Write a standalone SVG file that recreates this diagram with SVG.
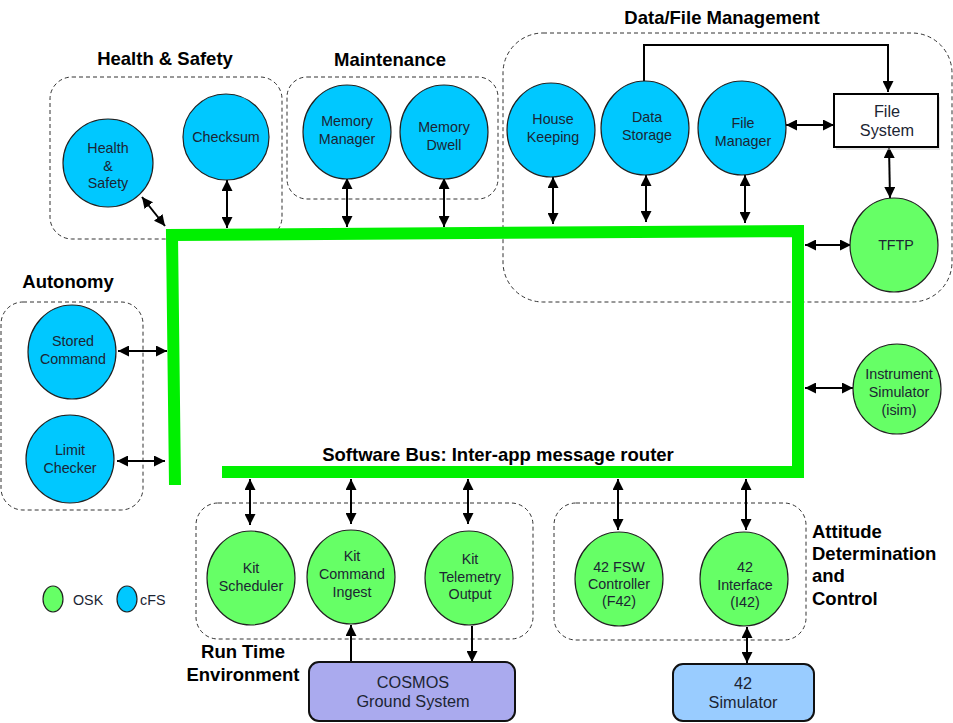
<svg xmlns="http://www.w3.org/2000/svg" width="953" height="723" viewBox="0 0 953 723">
<style>
.grp{fill:none;stroke:#333;stroke-width:1;stroke-dasharray:4 3}
.ttl{font-family:"Liberation Sans",Arial,sans-serif;font-weight:bold;font-size:18.5px;fill:#000}
.cfs{fill:#00c8ff;stroke:#222;stroke-width:1.2}
.osk{fill:#66ff66;stroke:#222;stroke-width:1.2}
.t{font-family:"Liberation Sans",Arial,sans-serif;font-size:14.3px;fill:#1c2533;text-anchor:middle;dominant-baseline:central}
.lg{font-family:"Liberation Sans",Arial,sans-serif;font-size:14.3px;fill:#1c2533;text-anchor:start;dominant-baseline:central}
.bt{font-family:"Liberation Sans",Arial,sans-serif;font-size:16.3px;fill:#1c2533;text-anchor:middle;dominant-baseline:central}
.c{fill:none;stroke:#000;stroke-width:2}
.da{marker-start:url(#ah);marker-end:url(#ah)}
.sa{marker-end:url(#ah)}
</style>
<defs>
<marker id="ah" viewBox="0 0 10 10" refX="10" refY="5" markerWidth="11" markerHeight="11" markerUnits="userSpaceOnUse" orient="auto-start-reverse">
<path d="M0,0 L10,5 L0,10 z" fill="#000"/>
</marker>
</defs>
<rect width="953" height="723" fill="#fff"/>

<!-- group boxes -->
<g id="grp-health">
<rect class="grp" x="50" y="77" width="232" height="162" rx="22"/>
<text class="ttl" x="165" y="65" text-anchor="middle">Health &amp; Safety</text>
</g>
<g id="grp-maint">
<rect class="grp" x="287" y="77" width="211" height="122" rx="20"/>
<text class="ttl" x="390" y="66" text-anchor="middle">Maintenance</text>
</g>
<g id="grp-data">
<rect class="grp" x="503" y="33" width="449" height="269" rx="40"/>
<text class="ttl" x="722" y="24" text-anchor="middle">Data/File Management</text>
</g>
<g id="grp-auto">
<rect class="grp" x="1" y="302" width="142" height="208" rx="22"/>
<text class="ttl" x="68" y="288" text-anchor="middle">Autonomy</text>
</g>
<g id="grp-rte">
<rect class="grp" x="196" y="503" width="337" height="136" rx="22"/>
<text class="ttl" x="243" y="658" text-anchor="middle">Run Time</text>
<text class="ttl" x="243" y="681" text-anchor="middle">Environment</text>
</g>
<g id="grp-adc">
<rect class="grp" x="554" y="503" width="252" height="137" rx="22"/>
<text class="ttl" x="812" y="538">Attitude</text>
<text class="ttl" x="812" y="560">Determination</text>
<text class="ttl" x="812" y="582">and</text>
<text class="ttl" x="812" y="605">Control</text>
</g>

<!-- software bus -->
<g id="bus">
<path d="M175 485 L172 235 L798 231 L798 472 L222 472" fill="none" stroke="#00f000" stroke-width="12" stroke-linejoin="miter"/>
<text class="ttl" x="498" y="461" text-anchor="middle">Software Bus: Inter-app message router</text>
</g>

<!-- connectors -->
<g id="connectors">
<line class="c da" x1="142" y1="197" x2="165" y2="226"/>
<line class="c da" x1="227" y1="180" x2="227" y2="228"/>
<line class="c da" x1="347" y1="178" x2="347" y2="227"/>
<line class="c da" x1="444" y1="178" x2="444" y2="227"/>
<line class="c da" x1="553" y1="177" x2="553" y2="224"/>
<line class="c da" x1="646" y1="175" x2="646" y2="222"/>
<line class="c da" x1="745" y1="175" x2="745" y2="223"/>
<polyline class="c sa" points="644,81 644,45 888,45 888,92" stroke-width="1.3"/>
<line class="c da" x1="786" y1="125" x2="834" y2="125"/>
<line class="c da" x1="889" y1="147" x2="890" y2="198" stroke-width="1.3"/>
<line class="c da" x1="805" y1="245" x2="851" y2="245"/>
<line class="c da" x1="118" y1="351" x2="167" y2="351"/>
<line class="c da" x1="117" y1="461" x2="165" y2="461"/>
<line class="c da" x1="805" y1="388" x2="853" y2="388"/>
<line class="c da" x1="250" y1="479" x2="250" y2="525"/>
<line class="c da" x1="351" y1="479" x2="351" y2="524"/>
<line class="c da" x1="468" y1="479" x2="468" y2="524"/>
<line class="c da" x1="618" y1="479" x2="618" y2="530"/>
<line class="c da" x1="746" y1="479" x2="746" y2="530"/>
<line class="c sa" x1="351" y1="662" x2="351" y2="625"/>
<line class="c sa" x1="472" y1="626" x2="472" y2="662"/>
<line class="c da" x1="747" y1="627" x2="747" y2="663"/>
</g>

<!-- nodes -->
<g id="n-hs">
<ellipse class="cfs" cx="108" cy="163" rx="45" ry="44"/>
<text class="t" x="108" y="148">Health</text><text class="t" x="108" y="166">&amp;</text><text class="t" x="108" y="183">Safety</text>
</g>
<g id="n-checksum">
<ellipse class="cfs" cx="226" cy="137" rx="43" ry="43"/>
<text class="t" x="226" y="137">Checksum</text>
</g>
<g id="n-memmgr">
<ellipse class="cfs" cx="347" cy="132" rx="44" ry="47"/>
<text class="t" x="347" y="121">Memory</text><text class="t" x="347" y="139">Manager</text>
</g>
<g id="n-memdwell">
<ellipse class="cfs" cx="444" cy="132" rx="44" ry="47"/>
<text class="t" x="444" y="127">Memory</text><text class="t" x="444" y="145">Dwell</text>
</g>
<g id="n-hk">
<ellipse class="cfs" cx="551" cy="130" rx="44" ry="47"/>
<text class="t" x="553" y="119">House</text><text class="t" x="553" y="137">Keeping</text>
</g>
<g id="n-ds">
<ellipse class="cfs" cx="645" cy="128" rx="44" ry="47"/>
<text class="t" x="647" y="117">Data</text><text class="t" x="647" y="135">Storage</text>
</g>
<g id="n-fm">
<ellipse class="cfs" cx="742" cy="128" rx="44" ry="47"/>
<text class="t" x="743" y="123">File</text><text class="t" x="743" y="141">Manager</text>
</g>
<g id="n-fs">
<rect x="836" y="97" width="104" height="53" fill="#ccc" opacity="0.5"/>
<rect x="834" y="94" width="104" height="53" fill="#fff" stroke="#000" stroke-width="2"/>
<text class="bt" x="887" y="111">File</text><text class="bt" x="887" y="130">System</text>
</g>
<g id="n-tftp">
<ellipse class="osk" cx="894" cy="245" rx="44" ry="47"/>
<text class="t" x="896" y="245">TFTP</text>
</g>
<g id="n-sc">
<ellipse class="cfs" cx="72" cy="352" rx="44" ry="47"/>
<text class="t" x="73" y="341">Stored</text><text class="t" x="73" y="359">Command</text>
</g>
<g id="n-lc">
<ellipse class="cfs" cx="70" cy="459" rx="44" ry="44"/>
<text class="t" x="70" y="450">Limit</text><text class="t" x="70" y="468">Checker</text>
</g>
<g id="n-isim">
<ellipse class="osk" cx="897" cy="389" rx="44" ry="45"/>
<text class="t" x="899" y="374">Instrument</text><text class="t" x="899" y="392">Simulator</text><text class="t" x="899" y="410">(isim)</text>
</g>
<g id="n-ks">
<ellipse class="osk" cx="251" cy="578" rx="44" ry="47"/>
<text class="t" x="251" y="568">Kit</text><text class="t" x="251" y="586">Scheduler</text>
</g>
<g id="n-kci">
<ellipse class="osk" cx="351" cy="577" rx="44" ry="47"/>
<text class="t" x="352" y="556">Kit</text><text class="t" x="352" y="574">Command</text><text class="t" x="352" y="592">Ingest</text>
</g>
<g id="n-kto">
<ellipse class="osk" cx="469" cy="578" rx="44" ry="47"/>
<text class="t" x="470" y="559">Kit</text><text class="t" x="470" y="577">Telemetry</text><text class="t" x="470" y="594">Output</text>
</g>
<g id="n-cosmos">
<rect x="309" y="662" width="206" height="59" rx="10" fill="#aaaaee" stroke="#111" stroke-width="2"/>
<text class="bt" x="413" y="682">COSMOS</text><text class="bt" x="413" y="701">Ground System</text>
</g>
<g id="n-f42">
<ellipse class="osk" cx="619" cy="579" rx="44" ry="47"/>
<text class="t" x="619" y="567">42 FSW</text><text class="t" x="619" y="584">Controller</text><text class="t" x="619" y="601">(F42)</text>
</g>
<g id="n-i42">
<ellipse class="osk" cx="744" cy="579" rx="44" ry="47"/>
<text class="t" x="745" y="567">42</text><text class="t" x="745" y="585">Interface</text><text class="t" x="745" y="602">(I42)</text>
</g>
<g id="n-sim42">
<rect x="673" y="664" width="141" height="57" rx="10" fill="#99ccff" stroke="#111" stroke-width="2"/>
<text class="bt" x="743" y="683">42</text><text class="bt" x="743" y="702">Simulator</text>
</g>

<!-- legend -->
<g id="legend">
<ellipse class="osk" cx="53" cy="599" rx="10" ry="13"/>
<text class="lg" x="73" y="600">OSK</text>
<ellipse class="cfs" cx="127" cy="599" rx="10" ry="13"/>
<text class="lg" x="140" y="600">cFS</text>
</g>
</svg>
